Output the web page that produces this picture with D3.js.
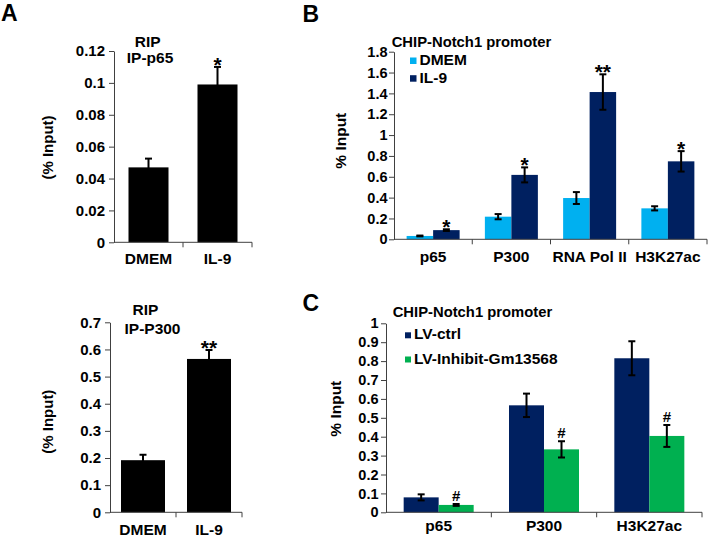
<!DOCTYPE html>
<html>
<head>
<meta charset="utf-8">
<script src="https://cdn.jsdelivr.net/npm/d3@7"></script>
<style>
  body { margin: 0; background: #fff; }
  svg text { font-family: 'Liberation Sans', Arial, sans-serif; font-weight: bold; fill: #000; }
</style>
</head>
<body>
<svg id="fig" width="709" height="538"></svg>
<script>
// ---- data ----
const ripCats = ["DMEM", "IL-9"];

const ripP65Vals = [0.047, 0.099];
const ripP65Err = [0.0055, 0.011];
const ripP65Sig = ["", "*"];
const ripP65Ticks = [0, 0.02, 0.04, 0.06, 0.08, 0.1, 0.12];

const ripP300Vals = [0.192, 0.565];
const ripP300Err = [0.02, 0.033];
const ripP300Sig = ["", "**"];
const ripP300Ticks = [0, 0.1, 0.2, 0.3, 0.4, 0.5, 0.6, 0.7];

const chipBCats = ["p65", "P300", "RNA Pol II", "H3K27ac"];
const chipBSeries = ["DMEM", "IL-9"];
const chipBDmem = [0.032, 0.217, 0.396, 0.297];
const chipBDmemErr = [0.004, 0.025, 0.057, 0.02];
const chipBIl9 = [0.088, 0.618, 1.413, 0.748];
const chipBIl9Err = [0.008, 0.072, 0.17, 0.098];
const chipBIl9Sig = ["*", "*", "**", "*"];
const chipBTicks = [0, 0.2, 0.4, 0.6, 0.8, 1, 1.2, 1.4, 1.6, 1.8];

const chipCCats = ["p65", "P300", "H3K27ac"];
const chipCSeries = ["LV-ctrl", "LV-Inhibit-Gm13568"];
const chipCCtrl = [0.079, 0.566, 0.815];
const chipCCtrlErr = [0.016, 0.062, 0.09];
const chipCInhib = [0.039, 0.333, 0.404];
const chipCInhibErr = [0.005, 0.043, 0.058];
const chipCInhibSig = ["#", "#", "#"];
const chipCTicks = [0, 0.1, 0.2, 0.3, 0.4, 0.5, 0.6, 0.7, 0.8, 0.9, 1];

const svg = d3.select("#fig");

// draws one bar panel; layout numbers live here, values come from the arrays above
function drawPanel(o) {
  var g = svg.append("g");

  var y = d3.scaleLinear().domain([0, o.max]).range([o.yBottom, o.yTop]);
  var x = d3.scaleBand().domain(o.cats).range([o.x0, o.x1]);
  var names = o.series.map(s => s.name);
  var inner = d3.scaleBand().domain(names).range([-o.groupWidth / 2, o.groupWidth / 2]);

  // y axis
  var yAxis = g.append("g")
    .attr("transform", "translate(" + o.x0 + ",0)")
    .call(d3.axisLeft(y).tickValues(o.ticks).tickSizeInner(5).tickSizeOuter(0)
      .tickPadding(o.tickPad).tickFormat(d => String(d)));
  yAxis.select(".domain").attr("stroke", o.axisColor);
  yAxis.selectAll(".tick line").attr("stroke", o.axisColor);
  yAxis.selectAll("text").attr("font-size", o.tickFont).attr("font-family", null).attr("fill", "#000");

  // bars
  o.series.forEach(function (s) {
    var rows = o.cats.map((c, i) => ({ cat: c, v: s.vals[i], e: s.errs[i], sig: s.sig ? s.sig[i] : "" }));
    var sg = g.append("g");

    sg.selectAll("rect").data(rows).enter().append("rect")
      .attr("x", d => x(d.cat) + x.bandwidth() / 2 + inner(s.name))
      .attr("width", inner.bandwidth())
      .attr("y", d => y(d.v))
      .attr("height", d => o.yBottom - y(d.v))
      .attr("fill", s.color);

    var cx = d => x(d.cat) + x.bandwidth() / 2 + inner(s.name) + inner.bandwidth() / 2;

    sg.selectAll("line.err").data(rows).enter().append("line")
      .attr("class", "err")
      .attr("x1", cx).attr("x2", cx)
      .attr("y1", d => y(d.v + d.e)).attr("y2", d => y(d.v - d.e))
      .attr("stroke", "#000").attr("stroke-width", 2);
    ["hi", "lo"].forEach(function (side) {
      var ey = d => y(side == "hi" ? d.v + d.e : d.v - d.e);
      sg.selectAll("line.cap" + side).data(rows).enter().append("line")
        .attr("class", "cap" + side)
        .attr("x1", d => cx(d) - 3.5).attr("x2", d => cx(d) + 3.5)
        .attr("y1", ey).attr("y2", ey)
        .attr("stroke", "#000").attr("stroke-width", 2);
    });

    // significance marks
    sg.selectAll("text.sig").data(rows.filter(d => d.sig)).enter().append("text")
      .attr("class", "sig")
      .attr("x", cx)
      .attr("y", d => y(d.v + d.e) + (d.sig == "#" ? -3 : 5))
      .attr("text-anchor", "middle")
      .attr("font-size", d => d.sig == "#" ? 15 : 21)
      .text(d => d.sig);
  });

  // x axis: baseline with ticks at the category boundaries
  g.append("line")
    .attr("x1", o.x0).attr("x2", o.x1).attr("y1", o.yBottom).attr("y2", o.yBottom)
    .attr("stroke", o.axisColor);
  g.selectAll("line.xtick").data(o.cats).enter().append("line")
    .attr("class", "xtick")
    .attr("x1", d => x(d) + x.bandwidth()).attr("x2", d => x(d) + x.bandwidth())
    .attr("y1", o.yBottom).attr("y2", o.yBottom + 5)
    .attr("stroke", o.axisColor);
  g.selectAll("text.cat").data(o.cats).enter().append("text")
    .attr("class", "cat")
    .attr("x", d => x(d) + x.bandwidth() / 2)
    .attr("y", o.catY)
    .attr("text-anchor", "middle")
    .attr("font-size", o.labelFont)
    .text(d => d);

  // y label
  g.append("text")
    .attr("transform", "translate(" + o.yLabel[0] + "," + o.yLabel[1] + ") rotate(-90)")
    .attr("text-anchor", "middle")
    .attr("dy", "0.35em")
    .attr("font-size", o.yLabelFont)
    .text(o.yLabelText);

  // titles
  o.titles.forEach(function (t) {
    g.append("text").attr("x", t.x).attr("y", t.y)
      .attr("text-anchor", t.anchor || "middle")
      .attr("font-size", t.size || o.labelFont)
      .text(t.text);
  });

  // legend
  if (o.legend) {
    var lg = g.append("g");
    lg.selectAll("rect").data(o.series).enter().append("rect")
      .attr("x", o.legend.x).attr("y", (d, i) => o.legend.y + i * o.legend.step - o.legend.box - 1)
      .attr("width", o.legend.box).attr("height", o.legend.box)
      .attr("fill", d => d.color);
    lg.selectAll("text").data(o.series).enter().append("text")
      .attr("x", o.legend.x + o.legend.box + 3)
      .attr("y", (d, i) => o.legend.y + i * o.legend.step)
      .attr("font-size", o.labelFont)
      .text(d => d.name);
  }
}

var lightBlue = "#00b0f0", navy = "#002060", green = "#00b050";

drawPanel({
  cats: ripCats, max: 0.12, ticks: ripP65Ticks,
  series: [{ name: "v", vals: ripP65Vals, errs: ripP65Err, sig: ripP65Sig, color: "#000" }],
  x0: 114, x1: 252, yTop: 51, yBottom: 242.3, groupWidth: 40,
  tickPad: 4, tickFont: 15, labelFont: 15.5, yLabelFont: 15, catY: 264.3, axisColor: "#404040",
  yLabel: [48, 147.5], yLabelText: "(% Input)",
  titles: [{ text: "RIP", x: 147.7, y: 46.7 }, { text: "IP-p65", x: 150, y: 63.3 }]
});

drawPanel({
  cats: ripCats, max: 0.7, ticks: ripP300Ticks,
  series: [{ name: "v", vals: ripP300Vals, errs: ripP300Err, sig: ripP300Sig, color: "#000" }],
  x0: 110, x1: 242, yTop: 322.3, yBottom: 512.3, groupWidth: 44,
  tickPad: 4, tickFont: 15, labelFont: 15.5, yLabelFont: 15, catY: 535, axisColor: "#404040",
  yLabel: [47.5, 421.7], yLabelText: "(% Input)",
  titles: [{ text: "RIP", x: 145.5, y: 315 }, { text: "IP-P300", x: 152.5, y: 334 }]
});

drawPanel({
  cats: chipBCats, max: 1.8, ticks: chipBTicks,
  series: [
    { name: chipBSeries[0], vals: chipBDmem, errs: chipBDmemErr, color: lightBlue },
    { name: chipBSeries[1], vals: chipBIl9, errs: chipBIl9Err, sig: chipBIl9Sig, color: navy }
  ],
  x0: 394, x1: 707, yTop: 51.7, yBottom: 239.3, groupWidth: 53,
  tickPad: 1.5, tickFont: 14.5, labelFont: 15.5, yLabelFont: 15.5, catY: 261.5, axisColor: "#404040",
  yLabel: [341, 140.7], yLabelText: "% Input",
  titles: [{ text: "CHIP-Notch1 promoter", x: 391.7, y: 46.7, anchor: "start", size: 14.8 }],
  legend: { x: 410, y: 65, step: 17.7, box: 6.5 }
});

drawPanel({
  cats: chipCCats, max: 1, ticks: chipCTicks,
  series: [
    { name: chipCSeries[0], vals: chipCCtrl, errs: chipCCtrlErr, color: navy },
    { name: chipCSeries[1], vals: chipCInhib, errs: chipCInhibErr, sig: chipCInhibSig, color: green }
  ],
  x0: 386, x1: 702, yTop: 323.3, yBottom: 512.3, groupWidth: 70,
  tickPad: 2.5, tickFont: 14.5, labelFont: 15.5, yLabelFont: 15.5, catY: 530.7, axisColor: "#404040",
  yLabel: [335.5, 408.7], yLabelText: "% Input",
  titles: [{ text: "CHIP-Notch1 promoter", x: 392.7, y: 317.3, anchor: "start", size: 14.8 }],
  legend: { x: 405, y: 339.3, step: 24.2, box: 6 }
});

// panel letters
svg.selectAll("text.panel").data([["A", 1, 21], ["B", 302.5, 21.5], ["C", 302.5, 311]])
  .enter().append("text")
  .attr("class", "panel")
  .attr("x", d => d[1]).attr("y", d => d[2])
  .attr("font-size", 23)
  .text(d => d[0]);
</script>
</body>
</html>
